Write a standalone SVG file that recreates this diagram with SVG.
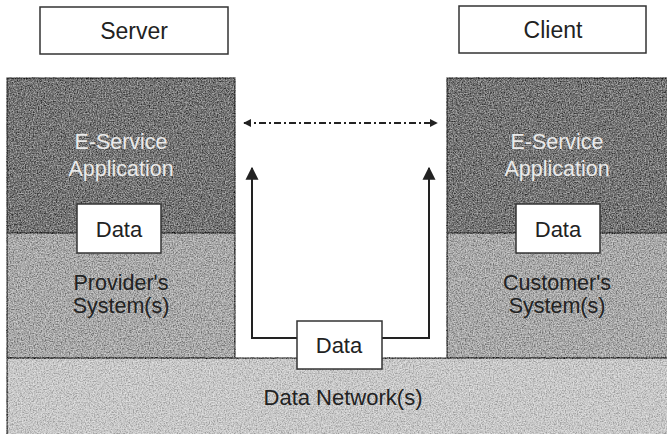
<svg xmlns="http://www.w3.org/2000/svg" width="667" height="434" viewBox="0 0 667 434">
<style>
.lbl{font-family:"Liberation Sans",Arial,sans-serif;text-anchor:middle}
.box{fill:#fff;stroke:#333;stroke-width:1.5}
.dark{fill:#727272;stroke:#333;stroke-width:1.5}
.mid{fill:#a8a8a8;stroke:#333;stroke-width:1.5}
.net{fill:#c8c8c8;stroke:#333;stroke-width:1.5}
.lt{fill:#eaeaea;font-size:21.5px}
.dk{fill:#222;font-size:21.5px}
.bx{fill:#222;font-size:22px}
.tt{fill:#222;font-size:23px}
.conn{fill:none;stroke:#222;stroke-width:2}
</style>
<defs>
<marker id="ah" viewBox="0 0 10 10" refX="9" refY="5" markerWidth="8" markerHeight="8" orient="auto-start-reverse" markerUnits="userSpaceOnUse">
<path d="M0,0 L10,5 L0,10 Z" fill="#222"/>
</marker>
<marker id="ahv" viewBox="0 0 10 10" refX="9" refY="5" markerWidth="13" markerHeight="15" orient="auto" markerUnits="userSpaceOnUse">
<path d="M0,0 L10,5 L0,10 Z" fill="#222"/>
</marker>
<filter id="grain" x="-2%" y="-2%" width="104%" height="104%">
<feTurbulence type="fractalNoise" baseFrequency="0.75" numOctaves="2" seed="5" result="n"/>
<feColorMatrix in="n" type="matrix" values="1.8 0 0 0 -0.4  1.8 0 0 0 -0.4  1.8 0 0 0 -0.4  0 0 0 0 1" result="g"/>
<feBlend in="g" in2="SourceGraphic" mode="soft-light" result="b"/>
<feComposite in="b" in2="SourceGraphic" operator="in"/>
</filter>
</defs>

<g id="network">
<rect class="net" x="7" y="358" width="670" height="90" filter="url(#grain)"/>
<text class="lbl bx" x="343" y="405">Data Network(s)</text>
</g>

<g id="server-side">
<rect class="mid" x="7" y="233" width="228" height="125" filter="url(#grain)"/>
<rect class="dark" x="7" y="78" width="228" height="155" filter="url(#grain)"/>
<text class="lbl lt" x="121" y="149">E-Service</text>
<text class="lbl lt" x="121" y="176">Application</text>
<text class="lbl dk" x="121" y="290">Provider's</text>
<text class="lbl dk" x="121" y="313">System(s)</text>
</g>

<g id="client-side">
<rect class="mid" x="447" y="233" width="230" height="125" filter="url(#grain)"/>
<rect class="dark" x="447" y="78" width="230" height="155" filter="url(#grain)"/>
<text class="lbl lt" x="557" y="149">E-Service</text>
<text class="lbl lt" x="557" y="176">Application</text>
<text class="lbl dk" x="557" y="290">Customer's</text>
<text class="lbl dk" x="557" y="313">System(s)</text>
</g>

<g id="server">
<rect class="box" x="40" y="7" width="188" height="47"/>
<text class="lbl tt" x="134" y="39">Server</text>
</g>

<g id="client">
<rect class="box" x="459" y="6" width="187" height="47"/>
<text class="lbl tt" x="553" y="38">Client</text>
</g>

<g id="connectors">
<line class="conn" x1="244" y1="123" x2="437" y2="123" stroke-width="1.5" stroke-dasharray="7,3,2,3" marker-start="url(#ah)" marker-end="url(#ah)"/>
<polyline class="conn" points="297,338 252,338 252,168" marker-end="url(#ahv)"/>
<polyline class="conn" points="382,338 429,338 429,168" marker-end="url(#ahv)"/>
</g>

<g id="data-server">
<rect class="box" x="77" y="204" width="84" height="49"/>
<text class="lbl bx" x="119" y="237">Data</text>
</g>

<g id="data-client">
<rect class="box" x="516" y="204" width="84" height="49"/>
<text class="lbl bx" x="558" y="237">Data</text>
</g>

<g id="data-transit">
<rect class="box" x="297" y="321" width="85" height="48"/>
<text class="lbl bx" x="339" y="353">Data</text>
</g>
</svg>
